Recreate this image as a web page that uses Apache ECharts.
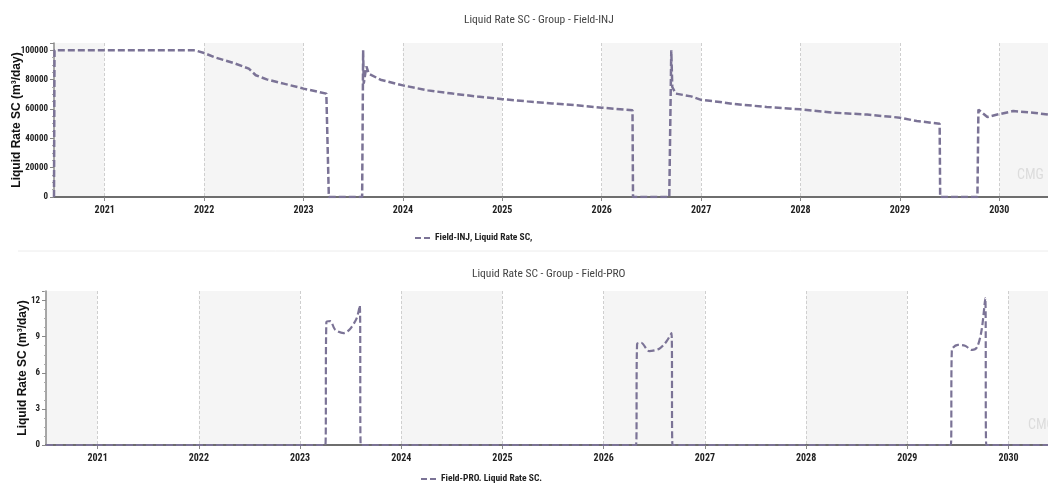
<!DOCTYPE html>
<html>
<head>
<meta charset="utf-8">
<script src="https://cdn.jsdelivr.net/npm/echarts@6/dist/echarts.min.js"></script>
<style>
  html, body { margin: 0; padding: 0; background: #ffffff; }
  #chart { width: 1048px; height: 492px; }
</style>
</head>
<body>
<div id="chart"></div>
<script>
// Field-INJ liquid rate (decimal years, m3/day)
const injYears = [
  2020.49, 2020.495, 2021.0, 2021.5, 2021.91, 2022.0, 2022.1, 2022.3, 2022.45, 2022.52,
  2022.63, 2022.8, 2023.0, 2023.23, 2023.25, 2023.255, 2023.59, 2023.60, 2023.606, 2023.633,
  2023.656, 2023.774, 2024.0, 2024.25, 2024.5, 2024.75, 2025.0, 2025.25, 2025.5, 2025.75,
  2026.0, 2026.31, 2026.315, 2026.68, 2026.70, 2026.71, 2026.745, 2026.9, 2027.0, 2027.19,
  2027.33, 2027.66, 2028.0, 2028.33, 2028.67, 2029.0, 2029.17, 2029.40, 2029.405, 2029.78,
  2029.79, 2029.88, 2029.98, 2030.14, 2030.34, 2030.49
];
const injRates = [
  0, 100000, 100000, 100000, 100000, 98200, 95400, 91300, 87500, 83000,
  80200, 77300, 73900, 70500, 70000, 0, 0, 100000, 77300, 89100,
  84100, 80000, 76100, 72700, 70500, 68500, 66700, 65200, 63800, 62500,
  60900, 59100, 0, 0, 100000, 75000, 70500, 68600, 66200, 64800,
  63400, 61400, 59800, 57500, 56200, 54100, 51800, 50000, 0, 0,
  59600, 54500, 56200, 58600, 57500, 56200
];

// Field-PRO liquid rate (decimal years, m3/day)
const proYears = [
  2020.49, 2023.25, 2023.26, 2023.30, 2023.345, 2023.43, 2023.49, 2023.56, 2023.59, 2023.60,
  2026.32, 2026.33, 2026.37, 2026.45, 2026.55, 2026.62, 2026.67, 2026.68,
  2029.43, 2029.44, 2029.50, 2029.57, 2029.64, 2029.69, 2029.735, 2029.77, 2029.78, 2030.39
];
const proRates = [
  0, 0, 10.2, 10.3, 9.6, 9.3, 9.6, 10.55, 11.6, 0,
  0, 8.4, 8.5, 7.8, 8.0, 8.6, 9.3, 0,
  0, 7.9, 8.33, 8.25, 7.9, 8.14, 9.6, 12.2, 0, 0
];

const titles = ['Liquid Rate SC - Group - Field-INJ', 'Liquid Rate SC - Group - Field-PRO'];
const seriesNames = ['Field-INJ, Liquid Rate SC,', 'Field-PRO. Liquid Rate SC.'];
const yAxisName = 'Liquid Rate SC (m\u00b3/day)';

const NARROW = '"Roboto Condensed","DejaVu Sans Condensed","Liberation Sans Narrow",sans-serif';
const LINE_COLOR = '#7b7396';
// two short dashes, used as the legend key of each dashed series
const DASH_ICON = 'path://M0,0 L6,0 L6,2 L0,2 Z M9,0 L15,0 L15,2 L9,2 Z';

const pairs = (xs, ys) => xs.map((x, i) => [x, ys[i]]);

function xAxisFor(gridIndex, max) {
  return {
    type: 'value', gridIndex: gridIndex, min: 2020.49, max: max, splitNumber: 10,
    axisLine: { show: true, lineStyle: { color: '#6e6e6e', width: 2 } },
    axisTick: { show: true, length: 4, lineStyle: { color: '#888' } },
    axisLabel: {
      showMinLabel: false, showMaxLabel: false, margin: 8,
      color: '#222', fontFamily: NARROW, fontWeight: 'bold', fontSize: 10,
      formatter: v => String(Math.round(v))
    },
    splitLine: { show: true, showMinLine: false, showMaxLine: false,
      lineStyle: { color: '#cfcfcf', type: [3, 2], width: 1 } },
    splitArea: { show: true, areaStyle: { color: ['#f5f5f5', '#ffffff'] } }
  };
}

function yAxisFor(gridIndex, max, interval, gap) {
  return {
    type: 'value', gridIndex: gridIndex, min: 0, max: max, interval: interval,
    name: yAxisName, nameLocation: 'middle', nameGap: gap, nameRotate: 90,
    nameMoveOverlap: false,
    nameTextStyle: { fontFamily: '"Liberation Sans",Arial,sans-serif', fontWeight: 'bold', fontSize: 12, color: '#111' },
    axisLine: { show: true, lineStyle: { color: '#8a8a8a', width: 1.5 } },
    axisTick: { show: true, length: 4, lineStyle: { color: '#888' } },
    minorTick: { show: true, splitNumber: 4, length: 2, lineStyle: { color: '#aaa' } },
    axisLabel: {
      showMaxLabel: false, margin: 6,
      color: '#222', fontFamily: NARROW, fontWeight: 'bold', fontSize: 9,
      formatter: v => String(v)
    },
    splitLine: { show: true, showMaxLine: false,
      lineStyle: { color: '#9a9a9a', type: [1, 1], width: 1 } }
  };
}

const chart = echarts.init(document.getElementById('chart'), null, { renderer: 'canvas' });

chart.setOption({
  animation: false,
  backgroundColor: '#ffffff',
  title: [
    { text: titles[0], left: 459, top: 9,
      textStyle: { fontFamily: NARROW, fontWeight: 'normal', fontSize: 11.5, color: '#444' } },
    { text: titles[1], left: 467, top: 263,
      textStyle: { fontFamily: NARROW, fontWeight: 'normal', fontSize: 11.5, color: '#444' } }
  ],
  legend: [
    { data: [{ name: seriesNames[0], icon: DASH_ICON }], left: 415, top: 233,
      itemWidth: 15, itemHeight: 2, itemGap: 4, padding: 0,
      textStyle: { fontFamily: NARROW, fontWeight: 'bold', fontSize: 9.5, color: '#222' } },
    { data: [{ name: seriesNames[1], icon: DASH_ICON }], left: 421, top: 474,
      itemWidth: 15, itemHeight: 2, itemGap: 4, padding: 0,
      textStyle: { fontFamily: NARROW, fontWeight: 'bold', fontSize: 9.5, color: '#222' } }
  ],
  grid: [
    { left: 54, right: 0, top: 43, height: 154, containLabel: false, outerBoundsMode: 'none' },
    { left: 46, right: 0, top: 291, height: 154, containLabel: false, outerBoundsMode: 'none' }
  ],
  xAxis: [xAxisFor(0, 2030.49), xAxisFor(1, 2030.39)],
  yAxis: [yAxisFor(0, 105000, 20000, 31), yAxisFor(1, 12.8, 3, 17)],
  graphic: [
    { type: 'line', shape: { x1: 18, y1: 251, x2: 1048, y2: 251 },
      style: { stroke: '#ececec', lineWidth: 1 }, z: 10 },
    { type: 'text', left: 1017, top: 168, z: 1,
      style: { text: 'CMG', fontFamily: NARROW, fontSize: 14, fill: '#dcdcdc' } },
    { type: 'text', left: 1028, top: 418, z: 1,
      style: { text: 'CMG', fontFamily: NARROW, fontSize: 14, fill: '#dcdcdc' } }
  ],
  series: [
    { name: seriesNames[0], type: 'line', xAxisIndex: 0, yAxisIndex: 0,
      data: pairs(injYears, injRates), symbol: 'none', smooth: false,
      lineStyle: { color: LINE_COLOR, width: 2.5, type: [7, 3] },
      itemStyle: { color: LINE_COLOR } },
    { name: seriesNames[1], type: 'line', xAxisIndex: 1, yAxisIndex: 1,
      data: pairs(proYears, proRates), symbol: 'none', smooth: 0.3,
      lineStyle: { color: LINE_COLOR, width: 2.2, type: [7, 3] },
      itemStyle: { color: LINE_COLOR } }
  ]
});
</script>
</body>
</html>
